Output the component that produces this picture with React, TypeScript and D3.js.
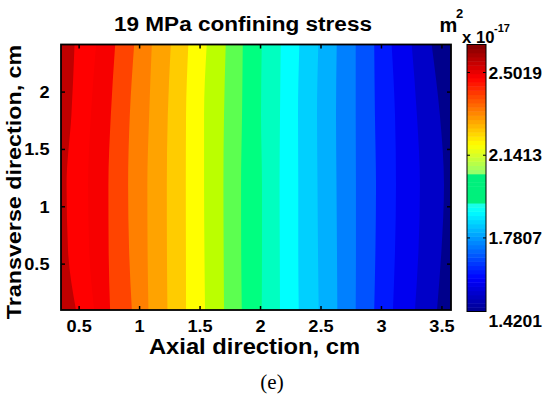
import React from 'react';
import * as d3 from 'd3';

// axis limits and ticks (cm)
const xDomain = [0.35, 3.575];
const yDomain = [0.1, 2.415];
const xTicks = [0.5, 1, 1.5, 2, 2.5, 3, 3.5];
const yTicks = [0.5, 1, 1.5, 2];

// rows where the contour boundaries were read, top to bottom
const ySamples = [2.415, 1.8, 1.19, 0.62, 0.1];

// axial position of each contour boundary at the rows above (left = high permeability)
const boundaries = [
  [0.462, 0.436, 0.396, 0.408, 0.474],
  [0.640, 0.597, 0.574, 0.583, 0.624],
  [0.798, 0.762, 0.742, 0.744, 0.756],
  [0.955, 0.919, 0.905, 0.913, 0.936],
  [1.101, 1.079, 1.064, 1.066, 1.073],
  [1.258, 1.233, 1.225, 1.226, 1.230],
  [1.403, 1.384, 1.382, 1.383, 1.384],
  [1.555, 1.533, 1.533, 1.536, 1.541],
  [1.712, 1.698, 1.693, 1.695, 1.698],
  [1.853, 1.847, 1.839, 1.840, 1.845],
  [2.010, 2.004, 2.012, 2.012, 2.010],
  [2.167, 2.161, 2.157, 2.159, 2.161],
  [2.321, 2.310, 2.312, 2.312, 2.316],
  [2.478, 2.467, 2.471, 2.475, 2.481],
  [2.630, 2.624, 2.628, 2.632, 2.635],
  [2.787, 2.787, 2.789, 2.789, 2.787],
  [2.940, 2.946, 2.955, 2.950, 2.940],
  [3.084, 3.112, 3.120, 3.112, 3.095],
  [3.250, 3.293, 3.318, 3.306, 3.277],
  [3.415, 3.483, 3.517, 3.496, 3.459],
];

// fill of each band, left to right
const bandColors = [
  '#bf0000', '#ff0000', '#f70000', '#ff4400', '#ff8000', '#ffa300', '#ffcc00',
  '#ffff00', '#bbff00', '#5cff50', '#00ff80', '#00ffc0', '#00ffff', '#00d0ff',
  '#00b0ff', '#0080ff', '#0052ff', '#0018ff', '#0000f0', '#0000c8', '#00008c',
];

// colorbar (x 10^-17 m^2)
const cbLimits = [1.46, 2.624];
const cbTicks = [1.4201, 1.7807, 2.1413, 2.5019];
const cbFlat = [1.93, 2.065];

const jet = d3
  .scaleLinear<string>()
  .domain([0, 0.125, 0.375, 0.625, 0.875, 1])
  .range(['#00008f', '#0000ff', '#00ffff', '#ffff00', '#ff0000', '#800000']);

const FONT = '"Liberation Sans", Arial, sans-serif';

function Txt(props: any) {
  const { x, y, size, anchor = 'middle', sx = 1.1, rotate = 0, weight = 'bold', family = FONT, children } = props;
  return (
    <text
      transform={`translate(${x},${y}) rotate(${rotate}) scale(${sx},1)`}
      fontSize={size}
      fontWeight={weight}
      fontFamily={family}
      textAnchor={anchor}
      fill="#000">
      {children}
    </text>
  );
}

export default function App() {
  const left = 61, right = 451, top = 44.5, bottom = 310;
  const x = d3.scaleLinear().domain(xDomain).range([left, right]);
  const y = d3.scaleLinear().domain(yDomain).range([bottom, top]);

  const cbX = 467, cbW = 19, cbTop = 44.5, cbBottom = 311.5;
  const cb = d3.scaleLinear().domain(cbLimits).range([cbBottom, cbTop]);

  const bandArea = (k: number) =>
    d3
      .area<number>()
      .curve(d3.curveMonotoneY)
      .y(d => y(d))
      .x0((_, i) => (k === 0 ? left - 3 : x(boundaries[k - 1][i])))
      .x1(right + 3)(ySamples) as string;

  const steps = 64;
  const cbStep = (cbLimits[1] - cbLimits[0]) / steps;
  const cbRects = d3.range(steps).map(i => {
    const v0 = cbLimits[0] + i * cbStep;
    const mid = v0 + cbStep / 2;
    const flat = mid > cbFlat[0] && mid < cbFlat[1];
    return { v0, v1: v0 + cbStep, color: flat ? '#00f07c' : jet((i + 0.5) / steps) };
  });

  const tickLen = 4;

  return (
    <div style={{ position: 'fixed', left: 0, top: 0 }}>
      <svg width={550} height={399} style={{ display: 'block', background: '#fff' }}>
        <defs>
          <clipPath id="plot-clip">
            <rect x={left} y={top} width={right - left} height={bottom - top} />
          </clipPath>
        </defs>

        <g clipPath="url(#plot-clip)">
          {bandColors.map((c, k) => (
            <path key={k} d={bandArea(k)} fill={c} />
          ))}
        </g>

        {/* ticks on all sides */}
        {xTicks.map(t => (
          <g key={'xt' + t} stroke="#000" strokeWidth={1.5}>
            <line x1={x(t)} x2={x(t)} y1={bottom} y2={bottom - tickLen} />
            <line x1={x(t)} x2={x(t)} y1={top} y2={top + tickLen} />
          </g>
        ))}
        {yTicks.map(t => (
          <g key={'yt' + t} stroke="#000" strokeWidth={1.5}>
            <line x1={left} x2={left + tickLen} y1={y(t)} y2={y(t)} />
            <line x1={right} x2={right - tickLen} y1={y(t)} y2={y(t)} />
          </g>
        ))}
        <rect x={left} y={top} width={right - left} height={bottom - top} fill="none" stroke="#000" strokeWidth={1.8} />

        {xTicks.map(t => (
          <Txt key={'xl' + t} x={x(t)} y={331.5} size={17} sx={1.07}>{String(t)}</Txt>
        ))}
        {yTicks.map(t => (
          <Txt key={'yl' + t} x={49.5} y={y(t) + 6} size={17} sx={1.07} anchor="end">{String(t)}</Txt>
        ))}

        <Txt x={243} y={30.5} size={20.5} sx={1.1}>19 MPa confining stress</Txt>
        <Txt x={254.5} y={354} size={22} sx={1.08}>Axial direction, cm</Txt>
        <Txt x={20.5} y={182} size={21} sx={1.11} rotate={-90}>Transverse direction, cm</Txt>

        {/* colorbar */}
        {cbRects.map((r, i) => (
          <rect key={i} x={cbX} width={cbW} y={cb(r.v1)} height={cb(r.v0) - cb(r.v1) + 0.5} fill={r.color} />
        ))}
        {cbTicks
          .filter(t => t >= cbLimits[0] && t <= cbLimits[1])
          .map(t => (
            <g key={'cbt' + t} stroke="#000" strokeWidth={1}>
              <line x1={cbX} x2={cbX + 3} y1={cb(t)} y2={cb(t)} />
              <line x1={cbX + cbW} x2={cbX + cbW - 3} y1={cb(t)} y2={cb(t)} />
            </g>
          ))}
        <rect x={cbX} y={cbTop} width={cbW} height={cbBottom - cbTop} fill="none" stroke="#000" strokeWidth={1} />
        {cbTicks.map(t => (
          <Txt key={'cbl' + t} x={488.5} y={cb(t) + 6} size={17} anchor="start" sx={1.03}>{t.toFixed(4)}</Txt>
        ))}

        <Txt x={439.5} y={32} size={20} anchor="start" sx={1.0}>m</Txt>
        <Txt x={456} y={18} size={13} anchor="start" sx={1.0}>2</Txt>
        <Txt x={462} y={42.5} size={17} anchor="start" sx={0.98}>x 10</Txt>
        <Txt x={494} y={32} size={11} anchor="start" sx={1.0}>-17</Txt>

        <Txt x={272} y={388.5} size={21} weight="normal" sx={1} family='"Liberation Serif", "Times New Roman", serif'>(e)</Txt>
      </svg>
    </div>
  );
}
